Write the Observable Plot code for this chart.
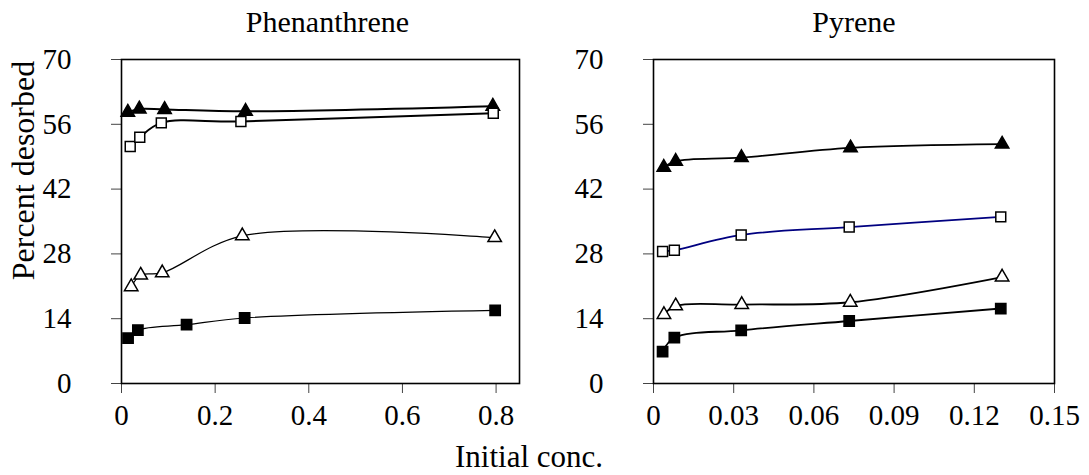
<!DOCTYPE html>
<html>
<head>
<meta charset="utf-8">
<script src="https://cdn.jsdelivr.net/npm/d3@7"></script>
<script src="https://cdn.jsdelivr.net/npm/@observablehq/plot@0.6"></script>
<style>
  body { margin: 0; background: white; }
  #wrap { position: relative; width: 1089px; height: 475px; overflow: hidden; background: white; }
  #wrap svg { position: absolute; top: 0; }
  #xlabel { position: absolute; top: 441px; left: 429px; width: 200px; text-align: center;
    font-family: "Liberation Serif", "Times New Roman", serif; font-size: 31px; line-height: 31px; z-index: 5; color: black; }
</style>
</head>
<body>
<div id="wrap"><div id="xlabel">Initial conc.</div></div>
<script>
// ---- Data ----
const panelTitles = ["Phenanthrene", "Pyrene"];
const yLabel = "Percent desorbed";
const xLabel = "Initial conc.";
const yTicks = [0, 14, 28, 42, 56, 70];
const phenXTicks = [0, 0.2, 0.4, 0.6, 0.8];
const pyrXTicks = [0, 0.03, 0.06, 0.09, 0.12, 0.15];

// Phenanthrene series: [initial conc., percent desorbed]
const phenFilledTri = [[0.0135, 58.6], [0.038, 59.3], [0.092, 59.2], [0.265, 58.8], [0.793, 59.9]];
const phenOpenSq    = [[0.0186, 51.2], [0.039, 53.2], [0.085, 56.3], [0.255, 56.6], [0.794, 58.4]];
const phenOpenTri   = [[0.0207, 20.9], [0.041, 23.4], [0.087, 23.9], [0.258, 31.9], [0.797, 31.5]];
const phenFilledSq  = [[0.014, 9.8], [0.035, 11.55], [0.139, 12.7], [0.263, 14.15], [0.798, 15.8]];

// Pyrene series
const pyrFilledTri = [[0.00385, 46.7], [0.0083, 48.0], [0.0329, 48.8], [0.0737, 50.9], [0.1304, 51.7]];
const pyrOpenSq    = [[0.0034, 28.5], [0.0078, 28.8], [0.0328, 32.1], [0.0732, 33.8], [0.1299, 36.0]];
const pyrOpenTri   = [[0.0039, 14.9], [0.0083, 16.75], [0.033, 17.05], [0.0736, 17.55], [0.1304, 23.0]];
const pyrFilledSq  = [[0.0034, 6.9], [0.0078, 9.9], [0.0328, 11.5], [0.0732, 13.5], [0.1299, 16.2]];

const FONT = "'Liberation Serif', 'Times New Roman', serif";

function seriesMarks(data, symbol, filled, lineColor, lineWidth, r) {
  return [
    Plot.line(data, {x: d => d[0], y: d => d[1], curve: "catmull-rom", stroke: lineColor, strokeWidth: lineWidth}),
    Plot.dot(data, {x: d => d[0], y: d => d[1], symbol, r, fill: filled ? "black" : "white", stroke: "black", strokeWidth: 1.5})
  ];
}

function panel({title, xDomain, xTicks, width, marginLeft, marginRight, series, showYLabel, titleDx}) {
  const marks = [
    Plot.axisY({ticks: yTicks, tickSize: 10, tickFormat: () => "", label: null, stroke: "#444"}),
    Plot.text(yTicks, {y: d => d, text: d => String(d), frameAnchor: "left", dx: -50, textAnchor: "end", lineAnchor: "middle", fontSize: 29, fill: "black"}),
    Plot.axisX({ticks: xTicks, tickSize: 10, tickPadding: 11, tickFormat: d => String(d), label: null, stroke: "#444", fontSize: 29}),
    ...series.flat(),
    Plot.frame({stroke: "black", strokeWidth: 1.6}),
    Plot.text([title], {frameAnchor: "top", dy: -28, dx: titleDx, lineAnchor: "bottom", fontSize: 30, fill: "black"})
  ];
  if (showYLabel) {
    marks.push(Plot.text([yLabel], {frameAnchor: "top-left", dx: -98, dy: 111, rotate: -90, textAnchor: "middle", lineAnchor: "middle", fontSize: 32, fill: "black"}));
  }
  return Plot.plot({
    width, height: 475,
    marginLeft, marginRight, marginTop: 59, marginBottom: 92,
    x: {domain: xDomain},
    y: {domain: [0, 70]},
    style: {fontFamily: FONT, fontSize: "29px", background: "transparent", overflow: "visible", color: "black"},
    marks
  });
}

const left = panel({
  title: panelTitles[0], xDomain: [0, 0.85], xTicks: phenXTicks,
  width: 545, marginLeft: 121, marginRight: 26, showYLabel: true, titleDx: 7,
  series: [
    seriesMarks(phenFilledTri, "triangle", true, "black", 2, 5),
    seriesMarks(phenOpenSq, "square", false, "black", 2, 5.6),
    seriesMarks(phenOpenTri, "triangle", false, "black", 1.2, 5),
    seriesMarks(phenFilledSq, "square", true, "black", 1.2, 5.8)
  ]
});
left.style.left = "0px";

const right = panel({
  title: panelTitles[1], xDomain: [0, 0.15], xTicks: pyrXTicks,
  width: 544, marginLeft: 108, marginRight: 35, showYLabel: false, titleDx: 0,
  series: [
    seriesMarks(pyrFilledTri, "triangle", true, "black", 1.8, 5),
    seriesMarks(pyrOpenSq, "square", false, "#000080", 1.8, 5.6),
    seriesMarks(pyrOpenTri, "triangle", false, "black", 1.8, 5),
    seriesMarks(pyrFilledSq, "square", true, "black", 1.8, 5.8)
  ]
});
right.style.left = "545px";

const wrap = document.getElementById("wrap");
wrap.insertBefore(right, wrap.firstChild);
wrap.insertBefore(left, wrap.firstChild);
</script>
</body>
</html>
